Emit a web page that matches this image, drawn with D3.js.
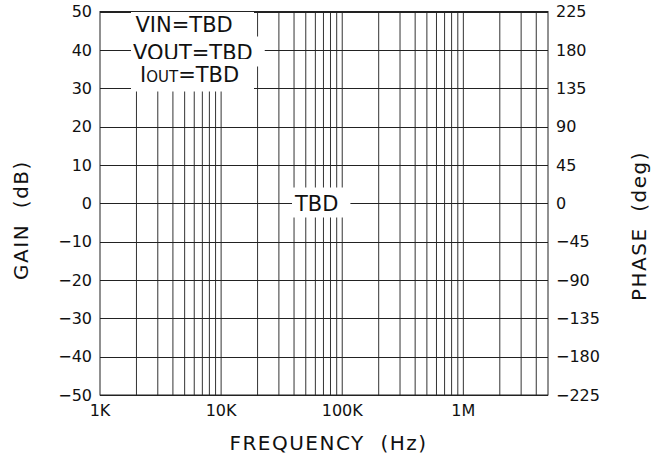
<!DOCTYPE html>
<html>
<head>
<meta charset="utf-8">
<script src="https://cdn.jsdelivr.net/npm/d3@7"></script>
<style>
  body { margin: 0; background: #fff; }
  text { font-family: "DejaVu Sans", sans-serif; fill: #111; }
</style>
</head>
<body>
<svg id="chart" width="652" height="459"></svg>
<script>
// axis data
var freqTicks = [1e3, 1e4, 1e5, 1e6];
var freqLabels = ['1K', '10K', '100K', '1M'];
var gainTicks = [50, 40, 30, 20, 10, 0, -10, -20, -30, -40, -50];
var phaseTicks = [225, 180, 135, 90, 45, 0, -45, -90, -135, -180, -225];
var conditions = ['VIN=TBD', 'VOUT=TBD', 'IOUT=TBD'];
var centerNote = 'TBD';

// plot box ("top" is taken by window.top)
var pLeft = 100, pRight = 548, pTop = 11.5, pBottom = 395;

var svg = d3.select('#chart');
svg.append('rect').attr('width', 652).attr('height', 459).attr('fill', '#fff');

var x = d3.scaleLog().domain([1e3, 5e6]).range([pLeft, pRight]);
var yGain = d3.scaleLinear().domain([-50, 50]).range([pBottom, pTop]);
var yPhase = d3.scaleLinear().domain([-225, 225]).range([pBottom, pTop]);
var fmt = d3.format('d');

var grid = svg.append('g');

// vertical grid: every 1..9 step in each decade
var vlines = x.ticks().filter(function(d) { return d > 1e3 && d < 5e6; });
grid.selectAll('line.v').data(vlines).enter().append('line')
  .attr('class', 'v')
  .attr('x1', function(d) { return x(d); })
  .attr('x2', function(d) { return x(d); })
  .attr('y1', pTop).attr('y2', pBottom)
  .attr('stroke', '#333').attr('stroke-width', 1);

grid.selectAll('line.h').data(gainTicks).enter().append('line')
  .attr('class', 'h')
  .attr('x1', pLeft).attr('x2', pRight)
  .attr('y1', function(d) { return Math.round(yGain(d)) + 0.5; })
  .attr('y2', function(d) { return Math.round(yGain(d)) + 0.5; })
  .attr('stroke', '#222').attr('stroke-width', 1);

// tick labels
svg.selectAll('text.gl').data(gainTicks).enter().append('text')
  .attr('class', 'gl')
  .attr('x', 92).attr('y', function(d) { return yGain(d); })
  .attr('dy', '0.36em')
  .attr('text-anchor', 'end')
  .style('font-size', '16px')
  .text(function(d) { return fmt(d); });

svg.selectAll('text.pl').data(phaseTicks).enter().append('text')
  .attr('class', 'pl')
  .attr('x', 556).attr('y', function(d) { return yPhase(d); })
  .attr('dy', '0.36em')
  .style('font-size', '16px')
  .text(function(d) { return fmt(d); });

svg.selectAll('text.fl').data(freqTicks).enter().append('text')
  .attr('class', 'fl')
  .attr('x', function(d) { return x(d); }).attr('y', 416)
  .attr('text-anchor', 'middle')
  .style('font-size', '16px')
  .text(function(d, i) { return freqLabels[i]; });

// condition block, white box behind
var notes = svg.append('g');
notes.append('rect')
  .attr('x', 131).attr('y', pTop).attr('width', 123).attr('height', 91.5 - pTop)
  .attr('fill', '#fff');

var notePos = [[135.5, 32], [133, 59.5], [140, 82]];
conditions.forEach(function(c, i) {
  var g = notes.append('g');
  var bg = g.append('rect').attr('fill', '#fff');
  var t = g.append('text')
    .attr('x', notePos[i][0]).attr('y', notePos[i][1])
    .style('font-size', '21px');
  if (c.indexOf('IOUT') == 0) {
    t.append('tspan').text('I');
    t.append('tspan').style('font-size', '15px').text('OUT');
    t.append('tspan').text(c.slice(4));
  } else {
    t.text(c);
  }
  var b = t.node().getBBox();
  bg.attr('x', b.x - 2).attr('y', b.y - 4).attr('width', b.width + 14).attr('height', b.height + 6);
});

var mid = svg.append('g');
var midBg = mid.append('rect').attr('fill', '#fff');
var midText = mid.append('text')
  .attr('x', 295).attr('y', 210.5)
  .style('font-size', '21px')
  .text(centerNote);
var mb = midText.node().getBBox();
midBg.attr('x', mb.x - 2).attr('y', mb.y - 4).attr('width', mb.width + 14).attr('height', mb.height + 6);

// frame
svg.append('rect')
  .attr('x', pLeft).attr('y', pTop).attr('width', pRight - pLeft).attr('height', pBottom - pTop)
  .attr('fill', 'none').attr('stroke', '#222').attr('stroke-width', 1);

// axis titles
svg.append('text')
  .attr('x', 328.5).attr('y', 450)
  .attr('text-anchor', 'middle')
  .style('font-size', '20px').style('letter-spacing', '1.5px').style('white-space', 'pre')
  .text('FREQUENCY  (Hz)');

svg.append('text')
  .attr('transform', 'translate(28,220) rotate(-90)')
  .attr('text-anchor', 'middle')
  .style('font-size', '20px').style('letter-spacing', '1.5px').style('white-space', 'pre')
  .text('GAIN  (dB)');

svg.append('text')
  .attr('transform', 'translate(646,226) rotate(-90)')
  .attr('text-anchor', 'middle')
  .style('font-size', '20px').style('letter-spacing', '1.5px').style('white-space', 'pre')
  .text('PHASE  (deg)');
</script>
</body>
</html>
